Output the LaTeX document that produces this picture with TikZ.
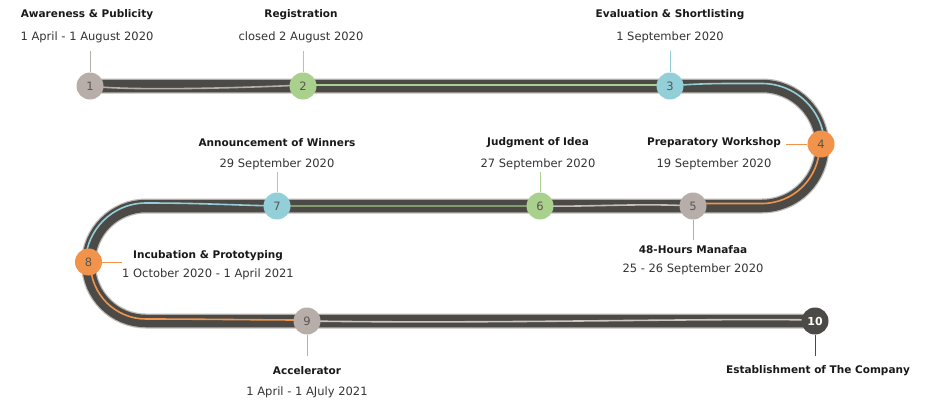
\documentclass[tikz,border=0pt]{standalone}
\usepackage{fontspec}
\setmainfont{DejaVu Sans}
\begin{document}
\begin{tikzpicture}[x=1pt,y=1pt,
  roadedge/.style={line width=15pt,draw=edgegray},
  roadcore/.style={line width=12.5pt,draw=roadgray},
  lane/.style={line width=1.6pt},
  stepnode/.style={circle,minimum size=27pt,inner sep=0pt,font=\fontsize{11.5}{11.5}\selectfont,text=numgray},
  pin/.style={line width=1pt},
  ttl/.style={font=\bfseries\fontsize{10.5}{12}\selectfont,text=black!90},
  dte/.style={font=\fontsize{11.5}{13}\selectfont,text=black!80}
]
\definecolor{roadgray}{HTML}{4B4A46}
\definecolor{edgegray}{HTML}{BDB9B4}
\definecolor{taupe}{HTML}{B7AEA9}
\definecolor{lgreen}{HTML}{A9D08C}
\definecolor{lblue}{HTML}{93CFD8}
\definecolor{orng}{HTML}{F1934A}
\definecolor{numgray}{HTML}{5A5550}
\useasboundingbox (0,0) rectangle (928,-400);

% road
\path[roadedge] (90,-86) -- (762,-86) arc[start angle=90,end angle=-90,radius=60] -- (146,-206) arc[start angle=90,end angle=270,radius=57.5] -- (815,-321);
\path[roadcore] (90,-86) -- (762,-86) arc[start angle=90,end angle=-90,radius=60] -- (146,-206) arc[start angle=90,end angle=270,radius=57.5] -- (815,-321);

% lanes
\draw[lane,taupe] (90,-86) .. controls (130,-91) and (240,-88) .. (303,-85);
\draw[lane,lgreen] (303,-85) -- (670,-85);
\draw[lane,lblue] (670,-86) .. controls (700,-83) and (730,-83.5) .. (762,-83.5) arc[start angle=90,end angle=0,radius=62.5];
\draw[lane,orng] (819.5,-146) arc[start angle=0,end angle=-90,radius=57.5] -- (693,-203.5);
\draw[lane,taupe!80] (693,-206) .. controls (640,-203) and (590,-207) .. (540,-206);
\draw[lane,lgreen!60!roadgray] (540,-206) -- (277,-206);
\draw[lane,lblue] (277,-206) .. controls (230,-205) and (200,-203) .. (146,-203) arc[start angle=90,end angle=180,radius=60.5];
\draw[lane,orng] (90.5,-263.5) arc[start angle=180,end angle=270,radius=55.5] .. controls (200,-319) and (260,-320) .. (307,-320);
\draw[lane,taupe!70] (307,-321) .. controls (500,-324) and (700,-318) .. (815,-320);

% step nodes
\node[stepnode,fill=taupe] (n1) at (90,-86) {1};
\node[stepnode,fill=lgreen] (n2) at (303,-86) {2};
\node[stepnode,fill=lblue] (n3) at (670,-86) {3};
\node[stepnode,fill=orng] (n4) at (821,-144) {4};
\node[stepnode,fill=taupe] (n5) at (693,-206) {5};
\node[stepnode,fill=lgreen] (n6) at (540,-206) {6};
\node[stepnode,fill=lblue] (n7) at (277,-206) {7};
\node[stepnode,fill=orng] (n8) at (88.5,-262) {8};
\node[stepnode,fill=taupe] (n9) at (307,-321) {9};
\node[stepnode,fill=roadgray,text=white,font=\bfseries\fontsize{11}{11}\selectfont] (n10) at (815,-321) {10};

% labels
\node[ttl] (t1) at (87,-15) {Awareness \& Publicity};
\node[dte] (d1) at (87,-37) {1 April - 1 August 2020};
\node[ttl] (t2) at (301,-15) {Registration};
\node[dte] (d2) at (301,-37) {closed 2 August 2020};
\node[ttl] (t3) at (670,-15) {Evaluation \& Shortlisting};
\node[dte] (d3) at (670,-37) {1 September 2020};
\node[ttl] (t7) at (277,-143) {Announcement of Winners};
\node[dte] (d7) at (277,-164) {29 September 2020};
\node[ttl] (t6) at (538,-143) {Judgment of Idea};
\node[dte] (d6) at (538,-164) {27 September 2020};
\node[ttl] (t4) at (714,-143) {Preparatory Workshop};
\node[dte] (d4) at (714,-164) {19 September 2020};
\node[ttl] (t5) at (693,-250) {48-Hours Manafaa};
\node[dte] (d5) at (693,-269) {25 - 26 September 2020};
\node[ttl] (t8) at (208,-256) {Incubation \& Prototyping};
\node[dte] (d8) at (208,-274) {1 October 2020 - 1 April 2021};
\node[ttl] (t9) at (307,-371) {Accelerator};
\node[dte] (d9) at (307,-392) {1 April - 1 AJuly 2021};
\node[ttl] (t10) at (818,-371) {Establishment of The Company};

% pins
\coordinate (p1) at (90,-51);
\coordinate (p2) at (303,-51);
\coordinate (p3) at (670,-51);
\coordinate (p7) at (277,-172);
\coordinate (p6) at (540,-172);
\coordinate (p4) at (786,-144);
\coordinate (p5) at (693,-240);
\coordinate (p8) at (122,-262);
\coordinate (p9) at (307,-356);
\coordinate (p10) at (815,-356);
\draw[pin,taupe] (p1) -- (n1);
\draw[pin,lgreen] (p2) -- (n2);
\draw[pin,lblue] (p3) -- (n3);
\draw[pin,lblue] (p7) -- (n7);
\draw[pin,lgreen] (p6) -- (n6);
\draw[pin,orng] (p4) -- (n4);
\draw[pin,taupe] (n5) -- (p5);
\draw[pin,orng] (n8) -- (p8);
\draw[pin,taupe] (n9) -- (p9);
\draw[pin,roadgray] (n10) -- (p10);
\end{tikzpicture}
\end{document}
